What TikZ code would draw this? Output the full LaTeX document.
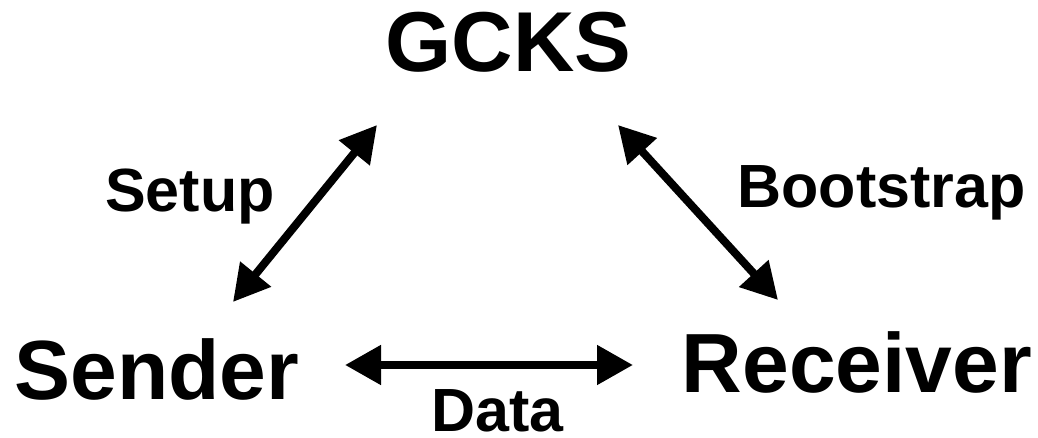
\documentclass[tikz,border=0pt]{standalone}
\usepackage{fontspec}
\setmainfont{Liberation Sans}
\usetikzlibrary{arrows.meta}
\begin{document}
\begin{tikzpicture}[x=1pt,y=-1pt,
  party/.style={font=\bfseries\fontsize{84}{84}\selectfont, anchor=base, inner sep=0pt},
  flowlabel/.style={font=\bfseries\fontsize{61}{61}\selectfont, anchor=base, inner sep=0pt},
  link/.style={line width=8pt, {Triangle[length=36pt,width=38pt]}-{Triangle[length=36pt,width=38pt]}}]
  \useasboundingbox (0,0) rectangle (1038,438);
  % the three parties
  \node[party, font=\bfseries\fontsize{85}{85}\selectfont] (gcks) at (508.5,72) {GCKS};
  \node[party] (sender) at (157,399) {Sender};
  \node[party] (receiver) at (857,392) {Receiver};
  % labels of the exchanges
  \node[flowlabel] (setup) at (190,212) {Setup};
  \node[flowlabel] (bootstrap) at (881.5,208) {Bootstrap};
  \node[flowlabel] (data) at (497.5,431) {Data};
  % arrow end points
  \coordinate (setupS) at (233,302);
  \coordinate (setupG) at (377,125);
  \coordinate (bootG) at (618,125);
  \coordinate (bootR) at (778,300);
  \coordinate (dataS) at (345,365);
  \coordinate (dataR) at (633,365);
  % exchanges
  \draw[link] (setupS) -- (setupG);
  \draw[link] (bootG) -- (bootR);
  \draw[link] (dataS) -- (dataR);
\end{tikzpicture}
\end{document}
